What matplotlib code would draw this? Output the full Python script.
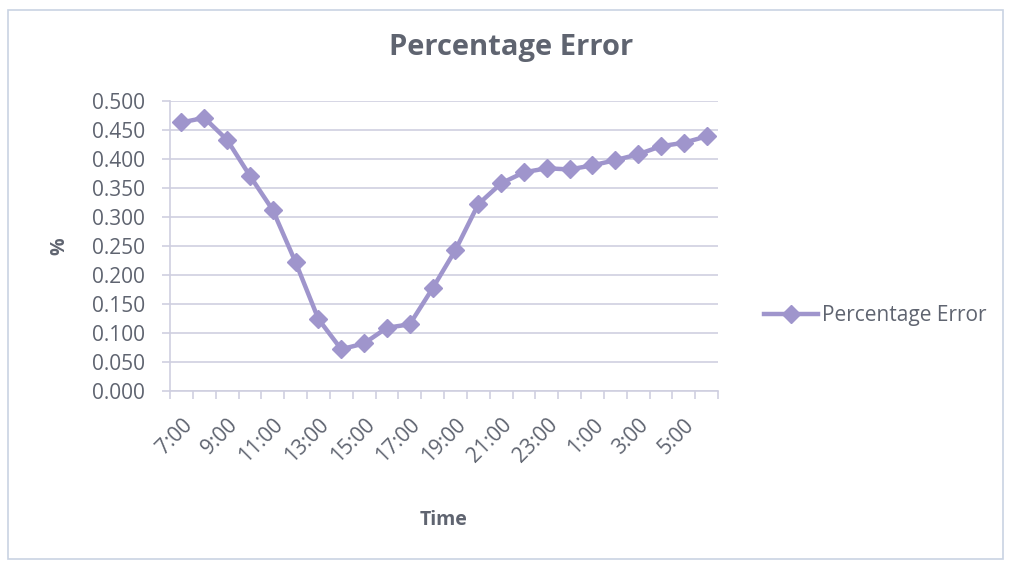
import numpy as np
import matplotlib.pyplot as plt
from matplotlib.patches import Rectangle

plt.rcParams['font.family'] = ['Open Sans', 'DejaVu Sans']

# hourly readings, 7:00 through 6:00 the next morning
hours = ['7:00', '8:00', '9:00', '10:00', '11:00', '12:00', '13:00', '14:00',
         '15:00', '16:00', '17:00', '18:00', '19:00', '20:00', '21:00', '22:00',
         '23:00', '0:00', '1:00', '2:00', '3:00', '4:00', '5:00', '6:00']
pct_error = [0.463, 0.471, 0.433, 0.371, 0.312, 0.222, 0.124, 0.072,
             0.082, 0.109, 0.115, 0.177, 0.243, 0.322, 0.358, 0.377,
             0.384, 0.382, 0.389, 0.398, 0.408, 0.422, 0.428, 0.439]
y_ticks = [0.0, 0.05, 0.1, 0.15, 0.2, 0.25, 0.3, 0.35, 0.4, 0.45, 0.5]

line_col = '#9f95cc'
text_col = '#5f6470'
grid_col = '#cfcfe0'
fs = 15

fig = plt.figure(figsize=(10.11, 5.61), dpi=100)
fig.patches.append(Rectangle((8 / 1011, 2 / 561), 995 / 1011, 549 / 561,
                             transform=fig.transFigure, fill=False,
                             edgecolor='#c9d3e3', linewidth=1.2))

ax = fig.add_axes([170 / 1011, 1 - 391 / 561, 548 / 1011, 290 / 561])
x = np.arange(len(hours))
ax.plot(x, pct_error, color=line_col, linewidth=3.2, marker='D',
        markersize=9.5, label='Percentage Error', zorder=3)

ax.set_xlim(-0.5, len(hours) - 0.5)
ax.set_ylim(0, 0.5)
ax.set_yticks(y_ticks)
ax.set_yticklabels([f'{v:.3f}' for v in y_ticks])
ax.yaxis.grid(True, color=grid_col, linewidth=1.2)
ax.set_axisbelow(True)

ax.set_xticks(x[::2])
ax.set_xticklabels(hours[::2], rotation=45, ha='right', rotation_mode='anchor')
ax.set_xticks(np.arange(-0.5, len(hours)), minor=True)
ax.tick_params(axis='x', which='major', length=0, pad=17, labelsize=fs, labelcolor=text_col)
ax.tick_params(axis='x', which='minor', length=6, color=grid_col, width=1.2)
ax.tick_params(axis='y', length=6, color=grid_col, width=1.2, labelsize=fs,
               labelcolor=text_col, pad=12)

for side in ['top', 'right']:
    ax.spines[side].set_visible(False)
for side in ['left', 'bottom']:
    ax.spines[side].set_color(grid_col)
    ax.spines[side].set_linewidth(1.2)

ax.set_xlabel('Time', fontsize=14, fontweight='bold', color=text_col, labelpad=31)
ax.set_ylabel('%', fontsize=14, fontweight='bold', color=text_col, labelpad=16)
fig.text(511 / 1011, 1 - 48 / 561, 'Percentage Error', ha='center', va='center',
         fontsize=21, fontweight='bold', color=text_col)

ax.legend(loc='center left', bbox_to_anchor=(1.05, 0.26), frameon=False,
          fontsize=fs, labelcolor=text_col, handlelength=2.6, handletextpad=0.2)

fig.savefig('out.png', dpi=100)
